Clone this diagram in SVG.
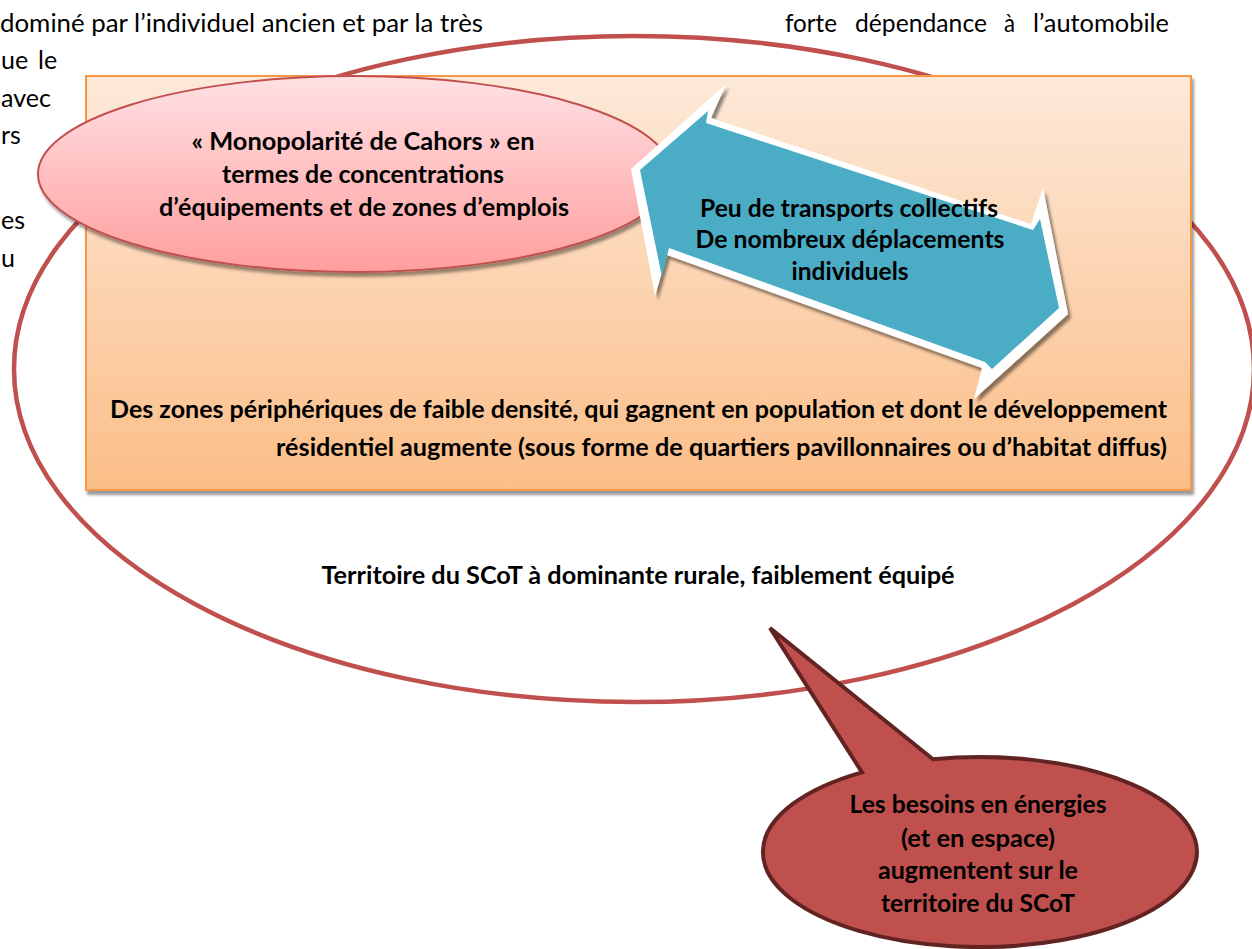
<svg xmlns="http://www.w3.org/2000/svg" width="1252" height="949" viewBox="0 0 1252 949">
  <defs>
    <style>
      .body { font-family: Lato, "Liberation Sans", sans-serif; font-size: 25px; fill: #000; }
      .bold { font-family: Lato, "Liberation Sans", sans-serif; font-weight: bold; font-size: 25px; fill: #000; }
      .mid { text-anchor: middle; }
      .end { text-anchor: end; }
    </style>
    <linearGradient id="gRect" x1="0" y1="0" x2="0" y2="1">
      <stop offset="0" stop-color="#FDE9D9"/>
      <stop offset="1" stop-color="#FBBE88"/>
    </linearGradient>
    <linearGradient id="gPink" x1="0" y1="0" x2="0" y2="1">
      <stop offset="0" stop-color="#FFE1E4"/>
      <stop offset="1" stop-color="#FF9E9E"/>
    </linearGradient>
    <filter id="shadow" x="-5%" y="-5%" width="115%" height="125%">
      <feDropShadow dx="2" dy="4" stdDeviation="1.5" flood-color="#000" flood-opacity="0.4"/>
    </filter>
    <filter id="shadowArrow" x="-10%" y="-10%" width="125%" height="130%">
      <feDropShadow dx="3" dy="4" stdDeviation="1.5" flood-color="#000" flood-opacity="0.45"/>
    </filter>
  </defs>

  <g id="body-text">
    <text class="body" x="0" y="32" textLength="483" lengthAdjust="spacingAndGlyphs">dominé par l’individuel ancien et par la très</text>
    <text class="body" x="785" y="32" textLength="52" lengthAdjust="spacingAndGlyphs">forte</text>
    <text class="body" x="855" y="32" textLength="132" lengthAdjust="spacingAndGlyphs">dépendance</text>
    <text class="body" x="1004" y="32" textLength="11" lengthAdjust="spacingAndGlyphs">à</text>
    <text class="body" x="1033" y="32" textLength="136" lengthAdjust="spacingAndGlyphs">l’automobile</text>
    <text class="body" x="1" y="69">ue</text>
    <text class="body" x="38" y="69">le</text>
    <text class="body" x="1" y="107">avec</text>
    <text class="body" x="1" y="144">rs</text>
    <text class="body" x="1" y="229">es</text>
    <text class="body" x="1" y="267">u</text>
  </g>

  <g id="territoire">
    <ellipse cx="634" cy="369" rx="620" ry="333" fill="none" stroke="#C0504D" stroke-width="4.5"/>
    <text class="bold mid" x="638" y="584" textLength="633" lengthAdjust="spacingAndGlyphs">Territoire du SCoT à dominante rurale, faiblement équipé</text>
  </g>

  <g id="zones-peripheriques">
    <rect x="86" y="76" width="1105" height="414" fill="url(#gRect)" stroke="#F79646" stroke-width="2" filter="url(#shadow)"/>
    <text class="bold end" x="1167" y="418" textLength="1057" lengthAdjust="spacingAndGlyphs">Des zones périphériques de faible densité, qui gagnent en population et dont le développement</text>
    <text class="bold end" x="1167" y="456" textLength="891" lengthAdjust="spacingAndGlyphs">résidentiel augmente (sous forme de quartiers pavillonnaires ou d’habitat diffus)</text>
  </g>

  <g id="monopolarite">
    <ellipse cx="355" cy="174" rx="317" ry="98" fill="url(#gPink)" stroke="#C0504D" stroke-width="2" filter="url(#shadow)"/>
    <text class="bold mid" x="363" y="150" textLength="343" lengthAdjust="spacingAndGlyphs">« Monopolarité de Cahors » en</text>
    <text class="bold mid" x="363" y="183" textLength="282" lengthAdjust="spacingAndGlyphs">termes de concentrations</text>
    <text class="bold mid" x="364" y="216" textLength="410" lengthAdjust="spacingAndGlyphs">d’équipements et de zones d’emplois</text>
  </g>

  <g id="transports">
    <polygon points="631,169 726,84 711,118 1031,224 1043,188 1068,314 974,399 982,368 667,255 655,296" fill="#FFFFFF" filter="url(#shadowArrow)"/>
    <polygon points="640,170 708,111 706,123 1033,230 1040,219 1059,308 992,369 985,362 669,248 662,277" fill="#4BACC6"/>
    <text class="bold mid" x="849" y="217" textLength="298" lengthAdjust="spacingAndGlyphs">Peu de transports collectifs</text>
    <text class="bold mid" x="850" y="248" textLength="309" lengthAdjust="spacingAndGlyphs">De nombreux déplacements</text>
    <text class="bold mid" x="850" y="280" textLength="117" lengthAdjust="spacingAndGlyphs">individuels</text>
  </g>

  <g id="besoins">
    <path d="M 862 772.3 L 770 628 L 933 759.3 A 217 95 0 1 1 862 772.3 Z" fill="#C0504D" stroke="#622423" stroke-width="4" stroke-linejoin="miter"/>
    <text class="bold mid" x="978" y="813" textLength="257" lengthAdjust="spacingAndGlyphs">Les besoins en énergies</text>
    <text class="bold mid" x="978" y="847" textLength="154" lengthAdjust="spacingAndGlyphs">(et en espace)</text>
    <text class="bold mid" x="978" y="879" textLength="200" lengthAdjust="spacingAndGlyphs">augmentent sur le</text>
    <text class="bold mid" x="978" y="912" textLength="194" lengthAdjust="spacingAndGlyphs">territoire du SCoT</text>
  </g>
</svg>
